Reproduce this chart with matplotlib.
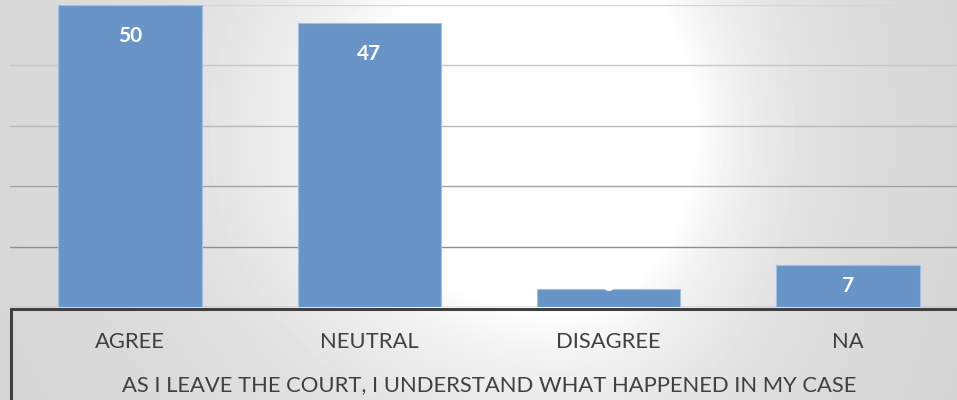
import numpy as np
import matplotlib
matplotlib.use("Agg")
import matplotlib.pyplot as plt
from matplotlib.patches import Rectangle

# Survey responses
categories = ['AGREE', 'NEUTRAL', 'DISAGREE', 'NA']
counts = [50, 47, 3, 7]
title = 'AS I LEAVE THE COURT, I UNDERSTAND WHAT HAPPENED IN MY CASE'

plt.rcParams['font.family'] = ['Lato', 'DejaVu Sans']

fig = plt.figure(figsize=(9.57, 4), dpi=100)

# background: soft radial grey gradient, white patch right of centre
bg = fig.add_axes([0, 0, 1, 1], zorder=0)
H, W = 400, 957
yy, xx = np.mgrid[0:H, 0:W]
dx = xx - 560.0
dx = np.where(dx > 0, dx * 1.35, dx * 0.9)
d = np.hypot(dx, yy - 130)
shade = 1 - 0.17 * (1 - np.exp(-np.clip(d - 180, 0, None) / 140))
bg.imshow(shade, cmap='gray', vmin=0, vmax=1, aspect='auto', extent=[0, W, H, 0])
bg.axis('off')

# main chart (runs a bit past the right edge, like the cropped original)
ax = fig.add_axes([10.4 / 957, 93 / 400, 957.2 / 957, 302 / 400], zorder=1)
ax.patch.set_alpha(0)
x = np.arange(len(categories))
bars = ax.bar(x, counts, width=0.6, color='#6894c8', edgecolor='#a3c0e3', linewidth=0.8, zorder=3)
ax.set_xlim(-0.5, len(categories) - 0.5)
ax.set_ylim(0, 50)
ax.set_yticks(range(0, 51, 10))
ax.yaxis.grid(True, linewidth=1.0, zorder=0)
ax.set_axisbelow(True)
grid_cols = ['#8e8e8e', '#8e8e8e', '#a3a3a3', '#b8b8b8', '#c8c8c8', '#d6d6d6']
for gl, c in zip(ax.get_ygridlines(), grid_cols):
    gl.set_color(c)
ax.tick_params(axis='y', left=False, labelleft=False)
ax.tick_params(axis='x', length=0, pad=25, labelsize=15.8, labelcolor='#404040')
ax.set_xticks(x)
ax.set_xticklabels(categories, va='center')
for s in ax.spines.values():
    s.set_visible(False)
ax.set_xlabel(title, fontsize=15.8, color='#404040', labelpad=17)

# value labels inside the bar ends
fig.canvas.draw()
for b, v in zip(bars, counts):
    y0 = ax.transData.transform((0, 0))[1]
    y1 = ax.transData.transform((0, v))[1]
    h = y1 - y0
    off = -min(31, h / 2) if h > 30 else 4
    ax.annotate(str(v), (b.get_x() + b.get_width() / 2, v), xytext=(0, off * 0.72),
                textcoords='offset points', ha='center', va='center',
                color='white', fontsize=15, fontweight='bold', zorder=4)

# dark frame around the category axis area
fig.add_artist(Rectangle((10.5 / 957, -0.2), 1.2, 0.2 + 91 / 400, transform=fig.transFigure,
                         fill=False, edgecolor='#404040', linewidth=2.2, zorder=5, clip_on=False))

fig.savefig('out.png', dpi=100)
